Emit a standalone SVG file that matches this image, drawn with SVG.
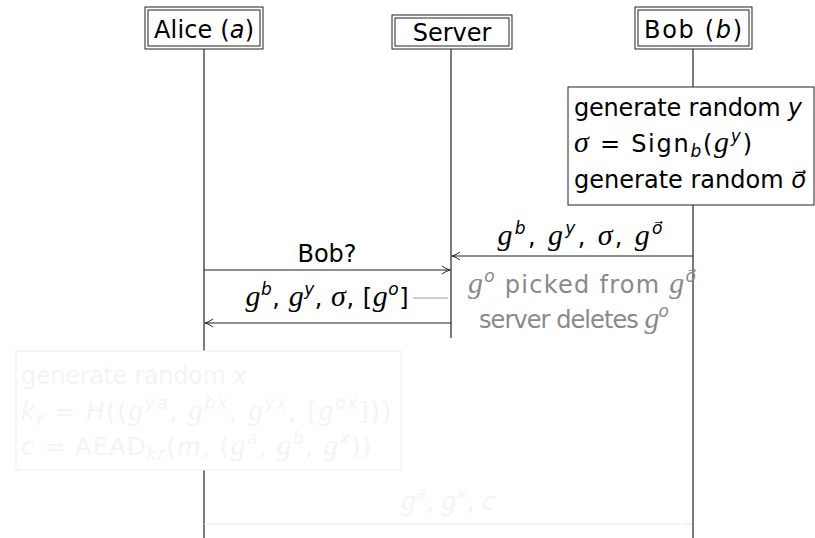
<svg xmlns="http://www.w3.org/2000/svg" width="815" height="538" viewBox="0 0 815 538">
<defs>
<style>
.t{font-family:"DejaVu Sans",sans-serif;font-size:24px;fill:#000}
.i{font-style:italic}
.m{font-family:"Liberation Serif",serif;font-style:italic;font-size:30px}
.s{font-size:17px}
.box{fill:#fff;stroke:#222;stroke-width:1}
.life{stroke:#222;stroke-width:1.2;fill:none}
.msg{stroke:#222;stroke-width:1;fill:none}
.gray{fill:#8a8a8a}
.faint{fill:#f4f4f4}
</style>
<marker id="ah" viewBox="0 0 10 10" refX="9" refY="5" markerWidth="10" markerHeight="10" markerUnits="userSpaceOnUse" orient="auto">
<path d="M1,1 Q5,4 9,5 Q5,6 1,9" fill="none" stroke="#222" stroke-width="1"/>
</marker>
<marker id="ahf" viewBox="0 0 10 10" refX="9" refY="5" markerWidth="10" markerHeight="10" markerUnits="userSpaceOnUse" orient="auto">
<path d="M1,1 Q5,4 9,5 Q5,6 1,9" fill="none" stroke="#eeeeee" stroke-width="1"/>
</marker>
</defs>
<rect width="815" height="538" fill="#fff"/>

<g id="lifelines">
<line class="life" x1="204" y1="49" x2="204" y2="351"/>
<line class="life" x1="204" y1="470" x2="204" y2="538"/>
<line class="life" x1="451" y1="49" x2="451" y2="338"/>
<line class="life" x1="693" y1="49" x2="693" y2="87"/>
<line class="life" x1="693" y1="205" x2="693" y2="538"/>
</g>

<g id="alice">
<rect class="box" x="145" y="7" width="118" height="42"/>
<rect class="box" x="148" y="10" width="112" height="36"/>
<text class="t" x="204" y="38" text-anchor="middle" textLength="100">Alice (<tspan class="i">a</tspan>)</text>
</g>
<g id="server">
<rect class="box" x="392" y="15" width="120" height="34"/>
<rect class="box" x="395" y="18" width="114" height="28"/>
<text class="t" x="452" y="41" text-anchor="middle">Server</text>
</g>
<g id="bob">
<rect class="box" x="635" y="7" width="117" height="42"/>
<rect class="box" x="638" y="10" width="111" height="36"/>
<text class="t" x="693" y="38" text-anchor="middle" textLength="98">Bob (<tspan class="i">b</tspan>)</text>
</g>

<g id="bob-action">
<rect class="box" x="568" y="87" width="246" height="118"/>
<text class="t" x="574" y="116" textLength="228">generate random <tspan class="i">y</tspan></text>
<text class="t" x="574" y="152" textLength="178"><tspan class="m">σ</tspan> = Sign<tspan class="i s" dy="5">b</tspan><tspan dy="-5">(</tspan><tspan class="m">g</tspan><tspan class="i s" dy="-10">y</tspan><tspan dy="10">)</tspan></text>
<text class="t" x="574" y="188" textLength="232">generate random <tspan class="i">o⃗</tspan></text>
</g>

<g id="connectors">
<line class="msg" x1="693" y1="256" x2="452" y2="256" marker-end="url(#ah)"/>
<line class="msg" x1="204" y1="270" x2="450" y2="270" marker-end="url(#ah)"/>
<line class="msg" x1="451" y1="323" x2="205" y2="323" marker-end="url(#ah)"/>
<line x1="413" y1="298" x2="448" y2="298" stroke="#999" stroke-width="1"/>
<line x1="204" y1="524" x2="692" y2="524" stroke="#eeeeee" stroke-width="1.2" marker-end="url(#ahf)"/>
</g>

<g id="msg1-label">
<text class="t" x="580" y="245" text-anchor="middle" textLength="165"><tspan class="m">g</tspan><tspan class="i s" dy="-11">b</tspan><tspan dy="11">, </tspan><tspan class="m">g</tspan><tspan class="i s" dy="-11">y</tspan><tspan dy="11">, </tspan><tspan class="m">σ</tspan>, <tspan class="m">g</tspan><tspan class="i s" dy="-11">o⃗</tspan></text>
</g>
<g id="msg2-label">
<text class="t" x="327" y="262" text-anchor="middle">Bob?</text>
</g>
<g id="note">
<text class="t gray" x="582" y="293" text-anchor="middle" textLength="228"><tspan class="m">g</tspan><tspan class="i s" dy="-11">o</tspan><tspan dy="11"> picked from </tspan><tspan class="m">g</tspan><tspan class="i s" dy="-11">o⃗</tspan></text>
<text class="t gray" x="574" y="328" text-anchor="middle" textLength="190">server deletes <tspan class="m">g</tspan><tspan class="i s" dy="-11">o</tspan></text>
</g>
<g id="msg3-label">
<text class="t" x="327" y="306" text-anchor="middle" textLength="163"><tspan class="m">g</tspan><tspan class="i s" dy="-11">b</tspan><tspan dy="11">, </tspan><tspan class="m">g</tspan><tspan class="i s" dy="-11">y</tspan><tspan dy="11">, </tspan><tspan class="m">σ</tspan>, [<tspan class="m">g</tspan><tspan class="i s" dy="-11">o</tspan><tspan dy="11">]</tspan></text>
</g>

<g id="alice-action">
<rect x="16" y="351" width="385" height="119" fill="#fff" stroke="#eeeeee" stroke-width="1"/>
<text class="t faint" x="21" y="384" textLength="226">generate random <tspan class="i">x</tspan></text>
<text class="t faint" x="21" y="420" textLength="370"><tspan class="i">k</tspan><tspan class="i s" dy="5">r</tspan><tspan dy="-5"> = </tspan><tspan class="i">H</tspan>((<tspan class="m">g</tspan><tspan class="i s" dy="-11">ya</tspan><tspan dy="11">, </tspan><tspan class="m">g</tspan><tspan class="i s" dy="-11">bx</tspan><tspan dy="11">, </tspan><tspan class="m">g</tspan><tspan class="i s" dy="-11">yx</tspan><tspan dy="11">, [</tspan><tspan class="m">g</tspan><tspan class="i s" dy="-11">ox</tspan><tspan dy="11">]))</tspan></text>
<text class="t faint" x="21" y="455" textLength="350"><tspan class="i">c</tspan> = AEAD<tspan class="i s" dy="5">kr</tspan><tspan dy="-5">(</tspan><tspan class="i">m</tspan>, (<tspan class="m">g</tspan><tspan class="i s" dy="-11">a</tspan><tspan dy="11">, </tspan><tspan class="m">g</tspan><tspan class="i s" dy="-11">b</tspan><tspan dy="11">, </tspan><tspan class="m">g</tspan><tspan class="i s" dy="-11">x</tspan><tspan dy="11">))</tspan></text>
</g>
<g id="msg4-label">
<text class="t faint" x="448" y="510" text-anchor="middle"><tspan class="m">g</tspan><tspan class="i s" dy="-11">a</tspan><tspan dy="11">, </tspan><tspan class="m">g</tspan><tspan class="i s" dy="-11">x</tspan><tspan dy="11">, </tspan><tspan class="i">c</tspan></text>
</g>
</svg>
